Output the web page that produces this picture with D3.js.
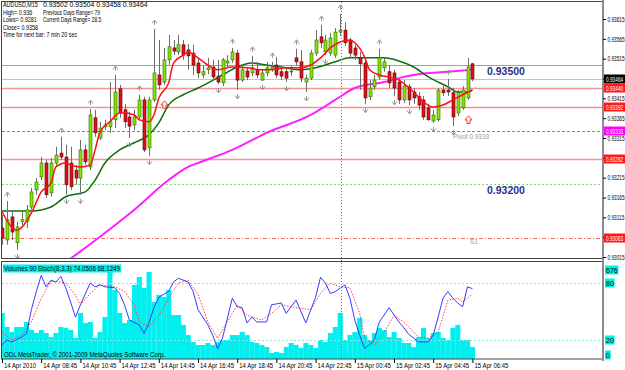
<!DOCTYPE html>
<html>
<head>
<meta charset="utf-8">
<script src="https://cdn.jsdelivr.net/npm/d3@7"></script>
<style>
  body { margin: 0; background: #fff; }
  svg { display: block; font-family: "Liberation Sans", "DejaVu Sans", sans-serif; }
</style>
</head>
<body>
<svg id="chart" width="625" height="370"></svg>
<script>
// AUDUSD M15 bars, 14 Apr 06:45 .. 15 Apr 06:45
let opens = [
  0.93088,0.93058,0.93116,0.93051,0.93104,0.93104,0.93141,0.93184,0.93217,0.93252,
  0.93177,0.93252,0.93277,0.93267,0.93252,0.93234,0.93214,0.93285,0.93242,0.93366,
  0.93315,0.93343,0.93343,0.93361,0.93439,0.93386,0.93368,0.93348,0.93368,0.93411,
  0.93290,0.93411,0.93474,0.93456,0.93512,0.93542,0.93532,0.93550,0.93537,0.93529,
  0.93504,0.93474,0.93487,0.93494,0.93471,0.93454,0.93504,0.93512,0.93529,0.93461,
  0.93484,0.93479,0.93487,0.93461,0.93479,0.93489,0.93499,0.93482,0.93482,0.93482,
  0.93517,0.93507,0.93456,0.93466,0.93529,0.93570,0.93532,0.93529,0.93524,0.93582,
  0.93587,0.93562,0.93542,0.93517,0.93504,0.93419,0.93444,0.93469,0.93492,0.93482,
  0.93479,0.93456,0.93411,0.93444,0.93431,0.93419,0.93411,0.93391,0.93358,0.93361,
  0.93436,0.93436,0.93429,0.93378,0.93391,0.93416,0.93502];
let highs = [
  0.93121,0.93156,0.93129,0.93104,0.93129,0.93146,0.93189,0.93214,0.93267,0.93260,
  0.93265,0.93293,0.93318,0.93298,0.93293,0.93247,0.93310,0.93298,0.93388,0.93386,
  0.93356,0.93361,0.93456,0.93474,0.93449,0.93401,0.93381,0.93386,0.93424,0.93419,
  0.93419,0.93590,0.93562,0.93542,0.93575,0.93562,0.93575,0.93562,0.93552,0.93550,
  0.93517,0.93499,0.93517,0.93512,0.93512,0.93517,0.93524,0.93542,0.93537,0.93499,
  0.93492,0.93522,0.93507,0.93487,0.93507,0.93507,0.93519,0.93492,0.93492,0.93497,
  0.93540,0.93537,0.93474,0.93537,0.93587,0.93600,0.93575,0.93580,0.93592,0.93628,
  0.93607,0.93567,0.93550,0.93532,0.93517,0.93461,0.93474,0.93540,0.93519,0.93499,
  0.93487,0.93466,0.93461,0.93451,0.93441,0.93431,0.93421,0.93401,0.93386,0.93441,
  0.93446,0.93464,0.93441,0.93436,0.93446,0.93517,0.93504];
let lows = [
  0.93046,0.93046,0.93058,0.93033,0.93096,0.93088,0.93134,0.93172,0.93209,0.93164,
  0.93167,0.93245,0.93260,0.93172,0.93184,0.93197,0.93172,0.93247,0.93234,0.93318,
  0.93310,0.93335,0.93328,0.93340,0.93366,0.93340,0.93315,0.93335,0.93361,0.93280,
  0.93270,0.93406,0.93436,0.93449,0.93499,0.93524,0.93524,0.93512,0.93487,0.93474,
  0.93466,0.93466,0.93476,0.93461,0.93451,0.93446,0.93492,0.93504,0.93436,0.93456,
  0.93461,0.93471,0.93466,0.93459,0.93471,0.93482,0.93466,0.93461,0.93456,0.93471,
  0.93497,0.93456,0.93431,0.93461,0.93522,0.93542,0.93524,0.93522,0.93517,0.93572,
  0.93547,0.93517,0.93512,0.93436,0.93401,0.93411,0.93436,0.93461,0.93482,0.93441,
  0.93421,0.93401,0.93403,0.93398,0.93401,0.93386,0.93361,0.93358,0.93353,0.93356,
  0.93421,0.93421,0.93345,0.93371,0.93386,0.93411,0.93458];
let closes = [
  0.93063,0.93109,0.93078,0.93091,0.93109,0.93134,0.93179,0.93204,0.93252,0.93172,
  0.93252,0.93272,0.93267,0.93197,0.93192,0.93214,0.93285,0.93255,0.93373,0.93328,
  0.93340,0.93348,0.93356,0.93431,0.93378,0.93356,0.93345,0.93368,0.93411,0.93285,
  0.93411,0.93479,0.93449,0.93512,0.93545,0.93534,0.93550,0.93524,0.93522,0.93499,
  0.93479,0.93482,0.93492,0.93469,0.93456,0.93512,0.93509,0.93532,0.93461,0.93487,
  0.93469,0.93492,0.93474,0.93479,0.93492,0.93494,0.93474,0.93471,0.93466,0.93484,
  0.93507,0.93466,0.93466,0.93529,0.93562,0.93555,0.93562,0.93567,0.93582,0.93587,
  0.93555,0.93529,0.93524,0.93502,0.93416,0.93441,0.93461,0.93517,0.93507,0.93454,
  0.93441,0.93411,0.93446,0.93411,0.93416,0.93398,0.93368,0.93361,0.93373,0.93436,
  0.93429,0.93431,0.93368,0.93429,0.93436,0.93494,0.93464];
let volumes = [
  342,238,201,238,238,275,215,193,215,193,
  163,193,238,230,215,156,342,267,275,156,
  201,312,676,513,342,267,290,550,609,528,
  646,424,476,461,513,327,327,253,178,126,
  104,104,119,104,126,141,141,178,178,201,
  178,126,119,104,89,45,52,45,89,119,
  104,82,119,104,82,141,126,193,238,342,
  141,178,201,305,178,141,193,230,215,163,
  201,156,119,119,89,163,230,156,193,201,
  156,141,230,253,141,141,90];

// moving averages (bar index, price)
let maRedBars = [0,3,6,8,10,11,13,14,16,18,19,20,22,24,25,27,28,30,31,32,34,35,37,38,40,42,44,47,50,53,55,58,61,63,65,67,69,71,72,74,75,77,79,81,84,86,88,90,92,94,96];
let maRed = [0.93129,0.93083,0.93126,0.93179,0.93202,0.93242,0.93252,0.93247,0.93242,0.93247,
  0.93285,0.93330,0.93356,0.93378,0.93378,0.93373,0.93361,0.93356,0.93373,0.93416,
  0.93454,0.93504,0.93524,0.93532,0.93517,0.93499,0.93487,0.93494,0.93492,0.93487,
  0.93487,0.93492,0.93492,0.93499,0.93517,0.93542,0.93557,0.93562,0.93555,0.93519,
  0.93487,0.93474,0.93469,0.93461,0.93431,0.93406,0.93393,0.93398,0.93411,0.93424,0.93436];
let maGreenBars = [0,6,10,13,17,19,21,24,27,30,32,34,37,40,45,48,51,54,57,61,64,68,71,74,78,81,84,87,91,93,95,96];
let maGreen = [0.93131,0.93131,0.93141,0.93167,0.93179,0.93209,0.93252,0.93285,0.93303,0.93323,
  0.93353,0.93398,0.93424,0.93441,0.93474,0.93494,0.93504,0.93499,0.93494,0.93487,
  0.93492,0.93507,0.93517,0.93517,0.93517,0.93509,0.93494,0.93469,0.93444,0.93431,0.93431,0.93436];
let maPinkBars = [12,20,27,34,38,40,47,54,63,68,72,78,81,84,91,96];
let maPink = [0.92993,0.93066,0.93134,0.93209,0.93242,0.93252,0.93285,0.93328,0.93373,0.93411,0.93441,0.93456,0.93466,0.93474,0.93482,0.93487];

// stochastic (8,3,3)
let stochMainBars = [0,1,2,4,5,6,7,8,9,10,11,12,13,14,15,16,18,19,20,21,23,24,25,26,28,29,30,31,32,34,35,36,38,39,40,42,43,44,45,47,48,49,50,51,52,54,55,57,58,60,62,64,65,66,67,68,70,71,72,73,74,75,76,77,79,81,82,83,85,87,88,89,90,91,92,93,94,95,96];
let stochMain = [15,20,18,23,27,52,71,88,76,83,81,87,75,60,44,57,80,76,78,76,75,69,57,41,36,27,38,54,65,71,81,85,81,71,52,36,25,11,22,64,55,54,38,44,39,39,57,59,48,62,38,65,86,80,69,71,78,64,41,25,11,15,20,39,54,39,33,26,18,18,25,44,64,71,64,59,55,76,74.0506];
let stochSigBars = [0,2,4,6,8,10,12,13,15,16,18,20,23,25,27,28,30,32,34,36,38,40,42,44,46,48,50,53,55,57,60,63,65,67,69,71,73,74,76,78,80,82,85,87,89,91,93,94,96];
let stochSig = [28,20,25,39,64,82,81,80,67,57,69,78,76,71,57,39,34,46,64,80,83,68,39,22,39,57,46,41,48,57,54,52,69,80,76,75,48,22,15,28,46,39,23,22,28,62,64,60,68.1249];

// fractals and signal arrows (bar indices)
let upFractals = [1,12,18,23,28,31,47,51,55,60,65,69,77,91];
let downFractals = [3,13,16,26,30,44,48,53,58,62,66,74,80,83,88,92];
let signalArrows = [33,95];

// horizontal levels
let levelPrices = [0.935, 0.93464, 0.9344, 0.93392, 0.93333, 0.93262, 0.932, 0.93063];
let boxPrices = [0.93464, 0.9344, 0.93392, 0.93333, 0.93262, 0.93063];
let bigLabels = [0.935, 0.932];
let pivot = 0.93333;
let s1 = 0.93063;
let daySplit = 69;

let priceTicks = [0.93015,0.93065,0.93115,0.93165,0.93215,0.93265,0.93315,0.93365,0.93415,0.93465,0.93515,0.93565,0.93615];
let timeBars = [0,8,16,24,32,40,48,56,64,72,80,88,96];
let timeLabels = ["14 Apr 2010","14 Apr 08:45","14 Apr 10:45","14 Apr 12:45","14 Apr 14:45","14 Apr 16:45",
  "14 Apr 18:45","14 Apr 20:45","14 Apr 22:45","15 Apr 00:45","15 Apr 02:45","15 Apr 04:45","15 Apr 06:45"];
let stochLevels = [80, 20];
let volMax = 676;

let symbol = "AUDUSD,M15";
let infoLeft = ["High= 0.936", "Lows= 0.9281", "Close= 0.9358", "Time for next bar: 7 min 20 sec"];
let infoRight = ["Previous Days Range= 79", "Current Days Range= 28.5", "", ""];

const svg = d3.select("#chart");
const last = opens.length - 1;
const fmt5 = d3.format(".5f");
const squeeze = 0.66; // MT4 bitmap font is narrow

const x = d3.scaleLinear().domain([0, 96]).range([2, 472.4]);
const y = d3.scaleLinear().domain([0.93015, 0.93615]).range([257, 19]);
const yVol = d3.scaleLinear().domain([0, volMax]).range([359, 268]);
const yStoch = d3.scaleLinear().domain([0, 100]).range([359, 264]);

const defs = svg.append("defs");
defs.append("clipPath").attr("id", "clipMain").append("rect")
  .attr("x", 2).attr("y", 2).attr("width", 600).attr("height", 256);
defs.append("clipPath").attr("id", "clipSub").append("rect")
  .attr("x", 2).attr("y", 262).attr("width", 600).attr("height", 97);

const main = svg.append("g").attr("clip-path", "url(#clipMain)");
const sub = svg.append("g").attr("clip-path", "url(#clipSub)");

// level lines
const levelStyle = [
  {c: "#5fcf5f", w: 1, d: "none"},
  {c: "#c4c4c4", w: 1, d: "none"},
  {c: "#f49494", w: 1.6, d: "none"},
  {c: "#f49494", w: 1.6, d: "none"},
  {c: "#ff33ff", w: 1, d: "3,2"},
  {c: "#f49494", w: 1.6, d: "none"},
  {c: "#7fd67f", w: 1, d: "2,2"},
  {c: "#f07070", w: 1, d: "4,2,1,2"}
];
main.selectAll("line.level").data(levelPrices).join("line")
  .attr("class", "level")
  .attr("x1", 2).attr("x2", 602)
  .attr("y1", d => Math.round(y(d)) + 0.5).attr("y2", d => Math.round(y(d)) + 0.5)
  .style("stroke", (d, i) => levelStyle[i].c)
  .style("stroke-width", (d, i) => levelStyle[i].w)
  .style("stroke-dasharray", (d, i) => levelStyle[i].d);

// day separator
svg.append("line")
  .attr("x1", Math.round(x(daySplit)) + 1.5).attr("x2", Math.round(x(daySplit)) + 1.5)
  .attr("y1", 2).attr("y2", 359)
  .attr("stroke", "#777").attr("stroke-dasharray", "1,2");

// moving averages
function maLine(bars, vals, color, w) {
  const line = d3.line().x(d => x(d[0])).y(d => y(d[1])).curve(d3.curveMonotoneX);
  main.append("path")
    .datum(bars.map((b, i) => [b, vals[i]]))
    .attr("d", line)
    .attr("fill", "none").attr("stroke", color).attr("stroke-width", w);
}
maLine(maPinkBars, maPink, "#ff20ff", 2);
maLine(maGreenBars, maGreen, "#0f6d0f", 1.5);

// candles
const bars = d3.range(opens.length).map(i => ({i, o: opens[i], h: highs[i], l: lows[i], c: closes[i]}));
const candle = main.selectAll("g.candle").data(bars).join("g").attr("class", "candle");
candle.append("line")
  .attr("x1", d => Math.round(x(d.i)) + 0.5).attr("x2", d => Math.round(x(d.i)) + 0.5)
  .attr("y1", d => y(d.h)).attr("y2", d => y(d.l))
  .attr("stroke", "#6e6e6e").attr("stroke-width", 1);
candle.append("rect")
  .attr("x", d => Math.round(x(d.i)) - 1)
  .attr("width", 3)
  .attr("y", d => y(Math.max(d.o, d.c)))
  .attr("height", d => Math.max(1, Math.abs(y(d.o) - y(d.c))))
  .attr("fill", d => d.c >= d.o ? "#84e600" : "#e0101a")
  .attr("stroke", d => d.c >= d.o ? "#2f6b00" : "#5a0000")
  .attr("stroke-width", 0.6);

maLine(maRedBars, maRed, "#ff1010", 1.5);

// fractals
main.selectAll("path.fup").data(upFractals).join("path")
  .attr("class", "fup")
  .attr("transform", d => `translate(${Math.round(x(d)) + 0.5},${y(highs[d]) - 7})`)
  .attr("d", "M-2.5,1.5L0,-2L2.5,1.5M0,-1V3")
  .attr("fill", "none").attr("stroke", "#8a8a8a").attr("stroke-width", 0.9);
main.selectAll("path.fdn").data(downFractals).join("path")
  .attr("class", "fdn")
  .attr("transform", d => `translate(${Math.round(x(d)) + 0.5},${y(lows[d]) + 7})`)
  .attr("d", "M-2.5,-1.5L0,2L2.5,-1.5M0,1V-3")
  .attr("fill", "none").attr("stroke", "#8a8a8a").attr("stroke-width", 0.9);

// hollow up arrows
main.selectAll("path.sig").data(signalArrows).join("path")
  .attr("class", "sig")
  .attr("transform", d => `translate(${Math.round(x(d)) + 0.5},${y(lows[d]) + 20})`)
  .attr("d", "M0,-4L3.5,0L1.5,0L1.5,3.5L-1.5,3.5L-1.5,0L-3.5,0Z")
  .attr("fill", "#fff").attr("stroke", "#ff3030").attr("stroke-width", 1);

// big level captions
main.selectAll("text.big").data(bigLabels).join("text")
  .attr("class", "big")
  .attr("x", 487).attr("y", d => y(d) + 10)
  .attr("font-size", 10.5).attr("font-weight", "bold")
  .attr("fill", "#2b2e8c")
  .text(d => fmt5(d));

main.append("text").attr("x", 453).attr("y", y(pivot) + 8)
  .attr("font-size", 6.5).attr("fill", "#9a9a9a").text("Pivot 0.9333");
main.append("text").attr("x", 470).attr("y", y(s1) + 6)
  .attr("font-size", 6.5).attr("fill", "#9a9a9a").text("S1");

// info text, squeezed horizontally like the terminal font
function narrowText(parent, tx, ty, str, size, k) {
  return parent.append("text")
    .attr("transform", `translate(${tx},${ty}) scale(${k || squeeze},1)`)
    .attr("font-size", size).text(str);
}
const info = svg.append("g").attr("fill", "#000");
narrowText(info, 3, 7, symbol, 7.2, 0.75);
narrowText(info, 43, 7, [opens[last], highs[last], lows[last], closes[last]].map(fmt5).join(" "), 7.2, 0.95);
infoLeft.forEach((t, k) => {
  narrowText(info, 3, 14.5 + k * 7.5, t, 7.2, 0.75);
  if (infoRight[k]) narrowText(info, 43, 14.5 + k * 7.5, infoRight[k], 7.2, 0.68);
});

// ---- sub window: volumes + stochastic
sub.selectAll("rect.vol").data(volumes).join("rect")
  .attr("class", "vol")
  .attr("x", (d, i) => x(i) - 2.45)
  .attr("width", 5.1)
  .attr("y", d => yVol(d))
  .attr("height", d => 359 - yVol(d))
  .attr("fill", "#00f0f0");

sub.selectAll("line.slev").data(stochLevels).join("line")
  .attr("class", "slev")
  .attr("x1", 2).attr("x2", 602)
  .attr("y1", d => Math.round(yStoch(d)) + 0.5).attr("y2", d => Math.round(yStoch(d)) + 0.5)
  .attr("stroke", "#8fe3e3").attr("stroke-dasharray", "2,2");

const sline = d3.line().x(d => x(d[0])).y(d => yStoch(d[1]));
sub.append("path").datum(stochSigBars.map((b, i) => [b, stochSig[i]]))
  .attr("d", sline).attr("fill", "none")
  .attr("stroke", "#ff4040").attr("stroke-width", 1).attr("stroke-dasharray", "1.5,1.5");
sub.append("path").datum(stochMainBars.map((b, i) => [b, stochMain[i]]))
  .attr("d", sline).attr("fill", "none")
  .attr("stroke", "#3a3aff").attr("stroke-width", 1);

const subTitle = `Volumes ${volumes[last]}  Stoch(8,3,3) ${stochMain[stochMain.length - 1].toFixed(4)} ${stochSig[stochSig.length - 1].toFixed(4)}`;
svg.append("rect").attr("x", 3).attr("y", 264.5).attr("width", 118).attr("height", 8).attr("fill", "#00f0f0");
svg.append("text").attr("x", 4).attr("y", 271).attr("font-size", 6.6)
  .attr("textLength", 116).attr("lengthAdjust", "spacingAndGlyphs").text(subTitle);
svg.append("text").attr("x", 4).attr("y", 356.5).attr("font-size", 6.6)
  .attr("textLength", 161).attr("lengthAdjust", "spacingAndGlyphs")
  .text("ODL MetaTrader, © 2001-2009 MetaQuotes Software Corp.");

// frames
svg.append("rect").attr("x", 1.5).attr("y", 1.5).attr("width", 601).attr("height", 257)
  .attr("fill", "none").attr("stroke", "#444");
svg.append("rect").attr("x", 1.5).attr("y", 261.5).attr("width", 601).attr("height", 97.5)
  .attr("fill", "none").attr("stroke", "#444");
svg.append("line").attr("x1", 603).attr("x2", 603).attr("y1", 0).attr("y2", 361)
  .attr("stroke", "#8c8c8c").attr("stroke-width", 2);

// price axis
const pAxis = svg.append("g").attr("transform", "translate(603,0)")
  .call(d3.axisRight(y).tickValues(priceTicks).tickFormat(fmt5).tickSize(3).tickPadding(1));
pAxis.select(".domain").remove();
pAxis.selectAll("line").attr("stroke", "#000");
pAxis.selectAll("text")
  .attr("font-size", 7.2).attr("fill", "#000")
  .attr("font-family", "'Liberation Sans', sans-serif")
  .attr("x", 4.5 / squeeze)
  .attr("transform", `scale(${squeeze},1)`);

// coloured price boxes
const boxColors = ["#000000", "#ff1a1a", "#ff1a1a", "#ff00ff", "#ff1a1a", "#ff1a1a"];
const boxes = svg.selectAll("g.box").data(boxPrices).join("g").attr("class", "box")
  .attr("transform", d => `translate(604,${Math.round(y(d))})`);
boxes.append("rect").attr("x", 0).attr("y", -4.5).attr("width", 21).attr("height", 9)
  .attr("fill", (d, i) => boxColors[i]);
boxes.append("text")
  .attr("transform", `translate(2,2.8) scale(${squeeze},1)`)
  .attr("font-size", 7.2).attr("fill", "#fff")
  .text(d => fmt5(d));

// sub window scale boxes
const subMarks = [
  {t: String(volMax), yy: yVol(volMax) + 2},
  {t: "80", yy: yStoch(80)},
  {t: "20", yy: yStoch(20)},
  {t: "0", yy: 355}
];
const sm = svg.selectAll("g.sm").data(subMarks).join("g").attr("class", "sm")
  .attr("transform", d => `translate(605,${Math.round(d.yy)})`);
sm.append("rect").attr("x", 0).attr("y", -4.5).attr("width", d => d.t.length * 3.8 + 2).attr("height", 9)
  .attr("fill", "#00f0f0");
sm.append("text").attr("x", 1).attr("y", 2.8).attr("font-size", 7).attr("fill", "#000").text(d => d.t);

// time axis
const tAxis = svg.append("g").attr("transform", "translate(0,359)")
  .call(d3.axisBottom(x).tickValues(timeBars).tickFormat((d, i) => timeLabels[i]).tickSize(4).tickPadding(1));
tAxis.select(".domain").remove();
tAxis.selectAll("line").attr("stroke", "#000");
tAxis.selectAll("text").attr("font-size", 7).attr("fill", "#000")
  .attr("text-anchor", "start").attr("dx", 1.5).attr("dy", "0.5em")
  .attr("font-family", "'Liberation Sans', sans-serif")
  .attr("textLength", (d, i) => i === 0 ? 32 : 34).attr("lengthAdjust", "spacingAndGlyphs");
</script>
</body>
</html>
